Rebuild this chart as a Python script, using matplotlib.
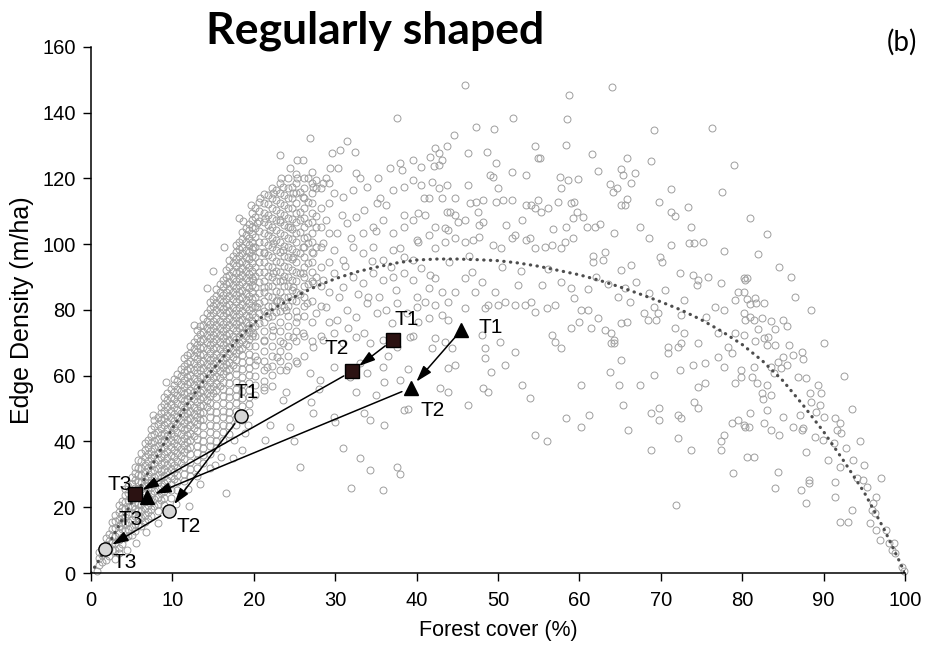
import matplotlib
matplotlib.use("Agg")
import matplotlib.pyplot as plt

plt.rcParams['font.family'] = ['Liberation Sans', 'DejaVu Sans']

# simulated landscapes: forest cover (%) vs edge density (m/ha)
# dense wedge at low cover, read column by column
wedge_x = [1.0, 1.8, 2.6, 3.4, 4.2, 5.0, 5.8, 6.6, 7.4, 8.2, 9.0, 9.8, 10.6, 11.4, 12.2, 13.0,
           13.8, 14.6, 15.4, 16.2, 17.0, 17.8, 18.6, 19.4]
wedge_y = [
    [2.4, 4.5, 6.3],
    [4.0, 6.3, 8.4, 10.6],
    [6.9, 9.0, 11.3, 13.4, 15.5],
    [7.7, 10.0, 12.1, 14.4, 16.5, 18.7, 20.6],
    [10.5, 12.8, 15.0, 17.1, 19.4, 21.5, 23.8, 25.6],
    [11.6, 13.9, 16.0, 18.3, 20.4, 22.6, 24.8, 27.0, 29.2],
    [14.5, 16.7, 18.9, 21.1, 23.3, 25.4, 27.7, 29.9, 32.0, 34.4],
    [15.4, 17.6, 19.8, 22.0, 24.2, 26.5, 28.6, 30.8, 33.0, 35.2, 37.4, 39.5],
    [17.4, 19.6, 21.9, 24.0, 26.3, 28.4, 30.6, 32.9, 35.1, 37.2, 39.5, 41.6, 43.9],
    [18.8, 21.0, 23.2, 25.4, 27.7, 29.8, 32.0, 34.3, 36.4, 38.7, 40.8, 43.0, 45.3, 47.5],
    [20.6, 22.9, 25.0, 27.3, 29.4, 31.7, 33.8, 36.1, 38.2, 40.5, 42.6, 44.9, 47.0, 49.3, 51.4, 53.4],
    [22.8, 25.1, 27.2, 29.5, 31.6, 33.9, 36.0, 38.3, 40.4, 42.7, 44.8, 47.1, 49.2, 51.5, 53.6, 55.9],
    [25.3, 27.6, 29.7, 32.0, 34.1, 36.4, 38.5, 40.8, 42.9, 45.2, 47.3, 49.6, 51.7, 54.0, 56.1, 58.4,
     60.6],
    [27.9, 30.2, 32.3, 34.6, 36.7, 39.0, 41.1, 43.4, 45.5, 47.8, 49.9, 52.2, 54.3, 56.6, 58.7, 61.0,
     63.1, 65.3],
    [29.4, 31.7, 33.8, 36.1, 38.2, 40.5, 42.6, 44.9, 47.0, 49.3, 51.4, 53.7, 55.8, 58.1, 60.2, 62.5,
     64.6, 66.9, 69.1],
    [32.0, 34.3, 36.4, 38.7, 40.8, 43.1, 45.2, 47.5, 49.6, 51.9, 54.0, 56.3, 58.4, 60.7, 62.8, 65.1,
     67.2, 69.5, 71.6, 73.8],
    [33.6, 35.9, 38.0, 40.3, 42.4, 44.7, 46.8, 49.1, 51.2, 53.5, 55.6, 57.9, 60.0, 62.3, 64.4, 66.7,
     68.8, 71.1, 73.2, 75.5, 77.6],
    [36.2, 38.5, 40.6, 42.9, 45.0, 47.3, 49.4, 51.7, 53.8, 56.1, 58.2, 60.5, 62.6, 64.9, 67.0, 69.3,
     71.4, 73.7, 75.8, 78.1, 80.2, 82.3],
    [38.0, 40.3, 42.4, 44.7, 46.8, 49.1, 51.2, 53.5, 55.6, 57.9, 60.0, 62.3, 64.4, 66.7, 68.8, 71.1,
     73.2, 75.5, 77.6, 79.9, 82.0, 84.3, 86.4],
    [40.6, 42.9, 45.0, 47.3, 49.4, 51.7, 53.8, 56.1, 58.2, 60.5, 62.6, 64.9, 67.0, 69.3, 71.4, 73.7,
     75.8, 78.1, 80.2, 82.5, 84.6, 86.9, 89.0],
    [42.3, 44.6, 46.7, 49.0, 51.1, 53.4, 55.5, 57.8, 59.9, 62.2, 64.3, 66.6, 68.7, 71.0, 73.1, 75.4,
     77.5, 79.8, 81.9, 84.2, 86.3, 88.6, 90.7, 93.0, 95.1],
    [44.9, 47.2, 49.3, 51.6, 53.7, 56.0, 58.1, 60.4, 62.5, 64.8, 66.9, 69.2, 71.3, 73.6, 75.7, 78.0,
     80.1, 82.4, 84.5, 86.8, 88.9, 91.2, 93.3, 95.6, 97.7, 99.8],
    [46.5, 48.8, 50.9, 53.2, 55.3, 57.6, 59.7, 62.0, 64.1, 66.4, 68.5, 70.8, 72.9, 75.2, 77.3, 79.6,
     81.7, 84.0, 86.1, 88.4, 90.5, 92.8, 94.9, 97.2, 99.3, 101.6, 103.7],
    [49.1, 51.4, 53.5, 55.8, 57.9, 60.2, 62.3, 64.6, 66.7, 69.0, 71.1, 73.4, 75.5, 77.8, 79.9, 82.2,
     84.3, 86.6, 88.7, 91.0, 93.1, 95.4, 97.5, 99.8, 101.9, 104.2, 106.3],
]

# second pass over the wedge, between the columns above
wedge2_x = [1.4, 2.2, 3.0, 3.8, 4.6, 5.4, 6.2, 7.0, 7.8, 8.6, 9.4, 10.2, 11.0, 11.8, 12.6, 13.4,
            14.2, 15.0, 15.8, 16.6, 17.4, 18.2, 19.0, 19.8]
wedge2_y = [
    [3.4, 5.5, 7.6],
    [5.2, 7.4, 9.6, 11.8],
    [7.0, 9.2, 11.4, 13.6, 15.8, 17.6],
    [8.9, 11.1, 13.3, 15.5, 17.7, 19.9, 22.0],
    [11.2, 13.4, 15.6, 17.8, 20.0, 22.2, 24.4, 26.6],
    [12.8, 15.0, 17.2, 19.4, 21.6, 23.8, 26.0, 28.2, 30.4, 32.2],
    [14.4, 16.6, 18.8, 21.0, 23.2, 25.4, 27.6, 29.8, 32.0, 34.2, 36.4],
    [16.4, 18.6, 20.8, 23.0, 25.2, 27.4, 29.6, 31.8, 34.0, 36.2, 38.4, 40.6],
    [20.4, 22.6, 24.8, 27.0, 29.2, 31.4, 33.6, 35.8, 38.0, 40.2, 42.4, 44.6, 46.4],
    [22.2, 24.4, 26.6, 28.8, 31.0, 33.2, 35.4, 37.6, 39.8, 42.0, 44.2, 46.4, 48.6, 50.6],
    [26.2, 28.4, 30.6, 32.8, 35.0, 37.2, 39.4, 41.6, 43.8, 46.0, 48.2, 50.4, 52.6, 54.6],
    [28.6, 30.8, 33.0, 35.2, 37.4, 39.6, 41.8, 44.0, 46.2, 48.4, 50.6, 52.8, 55.0, 57.2, 59.0],
    [33.4, 35.6, 37.8, 40.0, 42.2, 44.4, 46.6, 48.8, 51.0, 53.2, 55.4, 57.6, 59.8, 62.0],
    [37.6, 39.8, 42.0, 44.2, 46.4, 48.6, 50.8, 53.0, 55.2, 57.4, 59.6, 61.8, 64.0, 66.2],
    [41.8, 44.0, 46.2, 48.4, 50.6, 52.8, 55.0, 57.2, 59.4, 61.6, 63.8, 66.0, 68.2, 70.4],
    [46.4, 48.6, 50.8, 53.0, 55.2, 57.4, 59.6, 61.8, 64.0, 66.2, 68.4, 70.6, 72.8, 75.0],
    [50.4, 52.6, 54.8, 57.0, 59.2, 61.4, 63.6, 65.8, 68.0, 70.2, 72.4, 74.6, 76.8, 79.0],
    [54.8, 57.0, 59.2, 61.4, 63.6, 65.8, 68.0, 70.2, 72.4, 74.6, 76.8, 79.0, 81.2, 83.4],
    [57.0, 59.2, 61.4, 63.6, 65.8, 68.0, 70.2, 72.4, 74.6, 76.8, 79.0, 81.2, 83.4, 85.6, 87.8],
    [61.4, 63.6, 65.8, 68.0, 70.2, 72.4, 74.6, 76.8, 79.0, 81.2, 83.4, 85.6, 87.8, 90.0, 92.2],
    [63.4, 65.6, 67.8, 70.0, 72.2, 74.4, 76.6, 78.8, 81.0, 83.2, 85.4, 87.6, 89.8, 92.0, 94.2, 96.4],
    [67.8, 70.0, 72.2, 74.4, 76.6, 78.8, 81.0, 83.2, 85.4, 87.6, 89.8, 92.0, 94.2, 96.4, 98.6, 100.8],
    [69.8, 72.0, 74.2, 76.4, 78.6, 80.8, 83.0, 85.2, 87.4, 89.6, 91.8, 94.0, 96.2, 98.4, 100.6, 102.8,
     105.0],
    [72.2, 74.4, 76.6, 78.8, 81.0, 83.2, 85.4, 87.6, 89.8, 92.0, 94.2, 96.4, 98.6, 100.8, 103.0, 105.2,
     107.4, 109.6],
]

# upper band between 20 and 30 % cover
band_x = [20.2, 21.2, 22.2, 23.2, 24.2, 25.2, 26.2, 27.2, 28.2, 29.2]
band_y = [
    [54.0, 57.1, 60.0, 63.2, 66.1, 69.0, 72.2, 75.1, 78.0, 81.2, 84.1, 87.0, 90.2, 93.1, 96.0, 99.2,
     102.1, 105.0, 108.2, 111.1],
    [55.6, 58.5, 61.7, 64.6, 67.5, 70.7, 73.6, 76.5, 79.7, 82.6, 85.5, 88.7, 91.6, 94.5, 97.7, 100.6,
     103.5, 106.7, 109.6, 112.5, 115.4],
    [57.0, 60.2, 63.1, 66.0, 69.2, 72.1, 75.0, 78.2, 81.1, 84.0, 87.2, 90.1, 93.0, 96.2, 99.1, 102.0,
     105.2, 108.1, 111.0, 114.2, 117.1],
    [61.7, 64.6, 67.5, 70.7, 73.6, 76.5, 79.7, 82.6, 85.5, 88.7, 91.6, 94.5, 97.7, 100.6, 103.5,
     106.7, 109.6, 112.5, 115.7, 118.6],
    [63.1, 66.0, 69.2, 72.1, 75.0, 78.2, 81.1, 84.0, 87.2, 90.1, 93.0, 96.2, 99.1, 102.0, 105.2,
     108.1, 111.0, 114.2, 117.1, 120.0],
    [64.6, 70.7, 73.6, 76.5, 79.7, 82.6, 85.5, 88.7, 91.6, 94.5, 97.7, 100.6, 103.5, 106.7,
     109.6, 112.5, 115.7, 118.6, 121.5],
    [66.0, 72.1, 78.2, 81.1, 84.0, 87.2, 90.1, 93.0, 96.2, 99.1, 102.0, 105.2, 108.1,
     111.0, 114.2, 117.1, 120.0],
    [70.7, 76.5, 82.6, 88.7, 91.6, 94.5, 97.7, 100.6, 103.5, 106.7, 109.6,
     112.5, 115.7, 118.6, 122.0],
    [72.1, 81.1, 87.2, 93.0, 99.1, 105.2, 111.0, 117.1],
    [76.5, 85.5, 94.5, 103.5, 112.5, 118.6],
]

band2_x = [20.7, 21.7, 22.7, 23.7, 24.7, 25.7, 26.7, 27.7]
band2_y = [
    [76.0, 79.1, 82.2, 85.3, 88.4, 91.5, 94.6, 97.7, 100.8, 103.9, 107.0, 110.1, 113.0],
    [78.0, 81.1, 84.2, 87.3, 90.4, 93.5, 96.6, 99.7, 102.8, 105.9, 109.0, 112.1, 115.0],
    [79.5, 82.6, 85.7, 88.8, 91.9, 95.0, 98.1, 101.2, 104.3, 107.4, 110.5, 113.6, 116.5],
    [81.0, 84.1, 87.2, 90.3, 93.4, 96.5, 99.6, 102.7, 105.8, 108.9, 112.0, 115.1],
    [83.0, 86.1, 89.2, 92.3, 95.4, 98.5, 101.6, 104.7, 107.8, 110.9, 114.0, 117.5],
    [85.0, 91.2, 97.4, 103.6, 109.8, 116.0],
    [88.0, 94.2, 100.4, 106.6, 112.8],
    [90.0, 99.3, 108.6, 117.0],
]

# scattered landscapes around the wedge
cloud_0_20 = [
    (3.5, 6.2), (5.5, 9.0), (6.8, 12.6), (8.2, 15.1), (9.8, 18.2), (0.7, 0.5), (3.0, 4.4), (4.4, 7.1),
    (19.7, 112.0), (18.7, 107.0), (18.2, 108.0), (16.4, 99.3), (15.0, 91.8), (14.2, 86.6), (12.7, 75.5),
    (16.6, 24.2), (17.4, 34.9), (18.5, 37.4), (16.0, 35.4), (17.6, 40.5), (18.9, 42.5), (11.9, 25.4),
    (13.0, 29.5), (15.2, 33.0), (19.3, 45.0), (14.6, 32.0), (13.4, 27.0), (9.2, 58.0), (7.6, 48.0),
    (12.0, 20.5), (10.5, 21.0),
]

cloud_20_40 = [
    (26.9, 132.2), (31.4, 131.5), (37.6, 138.5), (32.4, 128.2), (30.6, 128.7), (29.6, 127.7), (23.2, 127.1),
    (25.3, 125.6), (26.1, 125.6), (29.4, 123.1), (30.4, 123.1), (24.4, 123.1), (25.3, 120.1), (23.4, 120.1),
    (26.7, 120.1), (27.7, 119.5), (28.9, 120.1), (32.6, 121.6), (35.3, 120.1), (36.7, 123.1), (38.0, 124.6),
    (38.2, 122.6), (39.6, 125.6), (20.8, 114.0), (21.4, 107.9), (22.4, 115.5), (23.6, 117.5), (24.8, 115.5),
    (26.1, 114.5), (27.3, 117.5), (28.5, 118.5), (29.8, 115.5), (31.0, 114.5), (32.2, 116.5), (33.9, 117.5),
    (35.1, 112.5), (36.3, 111.9), (37.1, 116.5), (38.4, 117.5), (39.6, 119.5), (20.4, 106.4), (22.0, 104.3),
    (23.2, 107.4), (24.4, 105.3), (25.7, 107.4), (26.5, 102.3), (27.7, 105.3), (28.9, 107.4), (30.2, 103.3),
    (31.4, 106.4), (32.6, 108.4), (33.4, 103.3), (34.7, 105.3), (35.9, 107.4), (37.1, 103.3), (38.4, 105.3),
    (39.6, 107.4), (40.0, 101.3), (19.9, 99.3), (21.2, 97.2), (22.4, 100.3), (23.6, 98.3), (24.8, 96.2),
    (26.1, 99.3), (27.3, 97.2), (28.5, 100.3), (29.8, 98.3), (31.0, 95.2), (32.2, 99.3), (33.4, 97.2),
    (34.7, 99.3), (35.9, 95.2), (37.1, 98.3), (38.4, 96.2), (39.6, 95.2), (19.9, 89.1), (21.2, 87.1),
    (22.4, 91.2), (23.6, 89.1), (24.8, 87.1), (26.1, 91.2), (27.3, 88.1), (28.5, 89.1), (29.8, 91.2),
    (31.0, 87.1), (32.2, 90.1), (33.4, 88.1), (34.7, 91.2), (35.9, 89.1), (37.1, 90.1), (38.4, 91.2),
    (39.6, 89.1), (20.4, 81.0), (21.6, 79.0), (22.8, 83.0), (24.0, 80.0), (25.3, 78.0), (26.5, 82.0),
    (27.7, 79.0), (28.9, 81.0), (30.2, 77.0), (31.4, 80.0), (32.6, 78.0), (33.9, 82.0), (35.1, 79.0),
    (36.3, 80.0), (37.6, 82.0), (38.8, 79.0), (40.0, 81.0), (19.9, 72.9), (21.2, 70.9), (22.4, 73.9),
    (23.6, 69.9), (24.8, 71.9), (26.1, 72.9), (27.3, 68.8), (28.5, 70.9), (29.8, 72.9), (31.0, 69.9),
    (32.6, 71.9), (34.3, 69.9), (35.9, 70.9), (37.6, 68.8), (39.2, 71.9), (20.4, 64.8), (21.6, 62.8),
    (22.8, 65.8), (24.0, 61.7), (25.3, 63.8), (26.9, 60.7), (28.1, 58.7), (29.8, 62.8), (31.8, 59.7),
    (33.9, 60.7), (35.9, 62.8), (38.0, 58.7), (21.2, 56.7), (23.6, 52.6), (27.3, 48.6), (29.8, 47.6),
    (25.7, 32.3), (37.6, 32.3), (35.9, 25.2), (21.4, 40.5), (24.4, 44.5), (33.5, 48.6), (34.3, 46.5),
    (38.4, 49.6), (32.5, 55.0), (33.0, 64.0), (33.5, 73.0), (34.0, 84.0), (34.5, 95.0), (35.0, 104.0),
    (35.5, 114.0), (36.0, 58.0), (36.5, 66.0), (37.0, 76.0), (37.5, 86.0), (38.0, 99.0), (38.5, 109.0),
    (39.0, 62.0), (39.5, 72.0), (40.0, 84.0), (22.0, 45.0), (25.0, 40.0), (27.0, 52.0), (30.0, 46.0),
    (31.0, 38.0), (33.0, 35.0), (35.0, 54.0), (36.0, 45.0), (38.0, 30.0), (39.0, 50.0), (32.0, 26.0),
    (28.0, 56.0), (24.0, 55.0), (34.3, 31.3), (31.2, 93.5), (32.8, 85.0), (33.6, 110.5), (36.8, 93.0),
    (31.6, 74.5), (35.4, 84.0), (30.8, 109.0), (31.9, 102.0), (30.5, 84.0), (33.1, 120.0),
]

cloud_40_60 = [
    (45.9, 148.4), (58.7, 145.4), (51.8, 138.5), (58.5, 138.1), (47.3, 135.6), (49.5, 135.1), (44.6, 133.2),
    (58.4, 130.2), (54.5, 129.9), (54.9, 126.3), (55.2, 126.1), (42.3, 129.4), (42.7, 127.7), (43.7, 129.9),
    (41.6, 126.6), (43.1, 125.6), (42.1, 123.9), (42.8, 124.1), (40.6, 123.6), (46.3, 127.7), (48.6, 128.2),
    (49.8, 124.6), (51.7, 121.9), (53.4, 121.1), (49.0, 121.1), (49.4, 120.5), (57.6, 120.5), (58.6, 119.5),
    (59.8, 119.8), (57.8, 117.0), (59.0, 112.5), (59.7, 109.9), (40.6, 118.0), (41.9, 119.0), (42.7, 117.0),
    (43.7, 118.0), (41.5, 114.0), (40.9, 114.0), (43.1, 114.0), (44.7, 114.0), (46.3, 118.0), (46.6, 112.5),
    (47.3, 112.9), (48.1, 113.5), (47.6, 109.9), (48.1, 106.9), (47.7, 105.9), (44.7, 108.9), (45.1, 106.9),
    (45.9, 107.4), (44.1, 109.9), (43.7, 109.9), (49.8, 112.9), (50.6, 113.5), (51.7, 113.5), (53.4, 111.9),
    (54.1, 111.9), (54.9, 113.5), (54.5, 110.9), (55.3, 109.9), (56.2, 110.9), (57.4, 112.9), (59.4, 112.9),
    (59.2, 107.9), (58.4, 105.3), (40.2, 109.4), (41.0, 108.9), (42.3, 105.3), (43.5, 104.8), (43.9, 104.3),
    (41.5, 102.8), (40.2, 100.8), (42.3, 98.8), (43.5, 100.8), (44.7, 101.8), (45.9, 100.8), (46.9, 101.3),
    (47.7, 102.3), (49.4, 99.8), (50.4, 98.8), (51.7, 101.8), (52.1, 102.8), (53.4, 101.3), (53.9, 101.8),
    (54.5, 98.8), (55.8, 99.3), (56.6, 99.8), (57.8, 98.8), (58.2, 100.8), (59.2, 101.8), (40.6, 92.7),
    (41.6, 90.6), (42.3, 89.6), (41.5, 86.6), (43.1, 85.6), (41.0, 82.5), (42.3, 81.5), (43.9, 82.5),
    (44.7, 85.6), (45.9, 89.6), (46.8, 91.6), (48.0, 88.6), (47.2, 85.6), (45.9, 80.5), (48.4, 80.5),
    (48.8, 81.5), (49.6, 85.6), (50.0, 81.5), (50.9, 82.5), (52.1, 81.5), (52.5, 87.6), (53.3, 81.5),
    (54.1, 82.5), (54.5, 79.5), (56.0, 80.5), (57.0, 81.5), (57.8, 88.6), (59.0, 86.6), (59.4, 83.6),
    (55.4, 87.6), (40.2, 76.5), (41.5, 77.5), (43.1, 78.5), (43.9, 77.0), (42.3, 71.4), (43.5, 70.4),
    (44.3, 68.3), (44.7, 63.3), (43.9, 62.3), (41.9, 68.3), (48.0, 72.4), (48.4, 68.3), (48.4, 65.3),
    (48.2, 56.2), (48.8, 55.2), (46.3, 51.1), (49.2, 61.2), (50.2, 70.4), (50.9, 63.3), (52.1, 67.3),
    (52.9, 57.2), (53.9, 53.1), (54.5, 42.0), (56.0, 40.0), (56.6, 72.4), (57.0, 70.4), (57.8, 68.3),
    (59.0, 74.4), (59.9, 76.5), (58.4, 47.1), (42.9, 56.2), (43.9, 55.2), (50.5, 93.0), (52.8, 92.0),
    (44.0, 94.5), (56.2, 92.5), (46.5, 96.5), (51.0, 106.0), (53.0, 107.5), (56.8, 104.5), (50.0, 117.0),
]

cloud_60_80 = [
    (64.0, 147.7), (69.2, 134.8), (61.6, 127.5), (65.8, 126.2), (68.8, 125.2), (62.3, 122.4), (65.1, 122.8),
    (65.4, 121.2), (66.8, 121.8), (66.4, 118.7), (71.2, 116.7), (73.3, 111.2), (77.8, 98.0), (63.8, 118.2),
    (64.1, 115.9), (64.6, 117.0), (65.8, 113.8), (65.6, 111.9), (65.1, 111.9), (69.8, 112.9), (71.3, 109.9),
    (71.7, 108.6), (60.4, 108.4), (61.9, 105.3), (60.9, 105.3), (62.5, 106.1), (64.3, 103.3), (67.4, 105.3),
    (68.6, 101.8), (73.7, 105.3), (73.5, 100.3), (74.1, 100.3), (75.2, 100.8), (61.7, 96.4), (63.1, 97.7),
    (62.9, 95.2), (61.7, 94.7), (65.1, 92.2), (66.4, 93.7), (69.9, 96.2), (70.2, 94.7), (71.3, 99.8),
    (72.3, 91.2), (74.0, 90.6), (74.6, 89.1), (74.4, 87.6), (75.8, 90.1), (77.4, 88.1), (80.3, 89.1),
    (79.5, 85.6), (65.6, 86.6), (66.2, 82.5), (64.8, 84.0), (68.6, 85.1), (69.2, 81.0), (69.4, 77.0),
    (69.7, 79.0), (67.9, 79.0), (68.4, 77.0), (72.9, 83.0), (72.5, 78.5), (71.7, 74.4), (72.9, 72.9),
    (76.6, 81.0), (77.8, 80.0), (79.1, 83.0), (80.3, 77.0), (77.0, 72.9), (79.1, 72.9), (62.3, 77.5),
    (63.1, 73.9), (63.9, 72.9), (64.3, 70.9), (65.1, 75.9), (65.9, 76.5), (60.2, 80.0), (61.0, 80.0),
    (61.4, 74.4), (78.2, 68.8), (78.7, 66.8), (77.0, 65.8), (77.8, 62.8), (79.9, 59.7), (79.1, 57.7),
    (70.9, 68.8), (72.1, 68.8), (72.5, 69.9), (70.9, 66.8), (74.6, 69.9), (75.4, 63.8), (74.6, 56.7),
    (75.4, 57.7), (65.1, 64.8), (64.9, 57.2), (67.4, 57.2), (69.2, 60.2), (72.3, 61.7), (74.0, 63.3),
    (63.9, 69.9), (64.3, 69.9), (60.2, 57.2), (61.2, 48.1), (60.2, 44.5), (63.7, 61.2), (65.4, 51.1),
    (66.0, 43.5), (68.8, 48.6), (69.8, 50.1), (69.8, 46.5), (68.8, 37.4), (72.1, 48.1), (72.5, 47.1),
    (73.7, 37.4), (74.1, 52.1), (74.6, 50.1), (72.1, 41.0), (77.4, 40.0), (77.4, 37.4), (77.8, 42.0),
    (78.7, 45.5), (79.5, 46.5), (80.3, 44.5), (78.9, 30.3), (71.9, 20.7), (76.3, 135.4), (79.0, 124.1),
    (77.5, 116.0), (62.0, 90.0), (67.0, 88.5), (70.5, 86.0), (75.5, 78.0), (63.5, 88.0), (61.0, 86.5),
]

cloud_80_100 = [
    (80.6, 89.8), (80.2, 89.8), (80.2, 85.6), (80.6, 83.3), (81.6, 83.6), (81.7, 82.2), (82.7, 82.2),
    (81.0, 81.8), (80.2, 79.0), (81.0, 78.0), (81.4, 77.0), (82.4, 77.5), (82.0, 74.2), (83.6, 76.7),
    (84.0, 74.1), (85.0, 77.0), (85.5, 75.2), (80.2, 72.4), (81.6, 70.6), (82.7, 71.4), (83.2, 71.9),
    (83.0, 69.4), (84.0, 69.4), (85.7, 69.4), (86.3, 66.3), (87.3, 67.3), (87.5, 65.0), (85.0, 65.8),
    (84.4, 64.3), (84.8, 62.5), (85.5, 63.3), (79.9, 61.7), (81.4, 62.8), (81.2, 59.7), (81.8, 57.7),
    (83.0, 57.2), (83.9, 60.7), (83.6, 62.8), (82.4, 54.7), (82.6, 52.8), (83.6, 54.1), (83.0, 49.6),
    (86.9, 59.7), (87.9, 59.2), (88.3, 54.7), (89.3, 57.2), (89.7, 54.7), (88.5, 52.1), (89.5, 51.1),
    (87.1, 48.1), (87.5, 44.0), (86.3, 44.5), (87.3, 43.5), (85.0, 47.6), (88.9, 41.5), (89.9, 40.5),
    (89.1, 49.1), (90.1, 47.6), (91.4, 47.1), (92.0, 45.5), (91.6, 43.5), (92.2, 42.5), (91.3, 39.5),
    (87.9, 36.9), (90.5, 34.4), (92.0, 32.3), (93.6, 34.4), (80.2, 45.0), (80.8, 44.5), (82.7, 45.5),
    (83.5, 43.5), (84.5, 42.0), (81.0, 48.6), (80.6, 35.4), (81.4, 35.4), (84.4, 30.8), (84.0, 25.8),
    (87.2, 25.2), (88.2, 27.3), (88.2, 28.3), (87.9, 21.2), (91.4, 27.8), (91.4, 23.2), (92.0, 15.6),
    (93.0, 15.6), (93.5, 19.2), (94.1, 28.8), (94.9, 28.3), (95.3, 26.3), (96.5, 23.2), (96.1, 21.2),
    (95.9, 19.2), (96.3, 18.2), (95.7, 15.1), (96.5, 13.1), (97.7, 13.1), (96.9, 10.0), (98.0, 9.0),
    (98.6, 9.0), (98.4, 7.0), (98.8, 6.0), (99.6, 1.9), (99.9, 0.6), (81.0, 108.0), (83.0, 103.0),
    (82.0, 97.0), (84.5, 93.0), (86.0, 90.0), (88.5, 80.0), (86.5, 84.0), (90.0, 70.0), (92.5, 60.0),
    (93.5, 50.0), (94.5, 40.0), (97.0, 29.0), (92.8, 38.0), (95.0, 33.0),
]

# polynomial trend line through the cloud
trend_x = [0, 2, 4, 6, 8, 10, 12, 14, 16, 18, 20, 22.5, 25, 27.5, 30, 32.5, 35, 37.5, 40, 42.5, 45,
           47.5, 50, 52.5, 55, 57.5, 60, 62.5, 65, 67.5, 70, 72.5, 75, 77.5, 80, 82.5, 85, 87.5, 90,
           92.5, 95, 97.5, 100]
trend_y = [0, 8, 17, 26, 35, 44, 52, 59, 65, 71, 76, 80.5, 84, 87, 89.5, 91.5, 93, 94.3, 95.2, 95.5,
           95.5, 95.3, 95, 94.3, 93.3, 92, 90.7, 89, 87, 84.8, 82.5, 80, 77, 73.5, 69.5, 64.5, 58.5,
           51, 43, 34, 24.5, 13, 0]

# landscape trajectories T1 -> T2 -> T3
square_x = [37.1, 32.1, 5.4]
square_y = [70.9, 61.4, 24.0]
triangle_x = [45.5, 39.3, 6.9]
triangle_y = [73.9, 56.3, 23.1]
circle_x = [18.4, 9.6, 1.7]
circle_y = [47.8, 18.9, 7.3]
stage_labels = ["T1", "T2", "T3"]

fig = plt.figure(figsize=(9.35, 6.49), dpi=100)
ax = fig.add_axes([0.0973, 0.1171, 0.8706, 0.8105])

pts = []
for cols_x, cols_y in [(wedge_x, wedge_y), (wedge2_x, wedge2_y), (band_x, band_y), (band2_x, band2_y)]:
    for x, ys in zip(cols_x, cols_y):
        pts += [(x, y) for y in ys]
pts += cloud_0_20 + cloud_20_40 + cloud_40_60 + cloud_60_80 + cloud_80_100
ax.plot([p[0] for p in pts], [p[1] for p in pts], 'o', mfc='none', mec='#9e9e9e',
        ms=5.0, mew=0.7, zorder=1, clip_on=False)

ax.plot(trend_x, trend_y, color='#4d4d4d', lw=2.3, linestyle=(0, (0.1, 2.0)),
        dash_capstyle='round', zorder=2)


def draw_path(xs, ys, marker, face, size, offsets):
    for i in range(len(xs) - 1):
        ax.annotate('', xy=(xs[i + 1], ys[i + 1]), xytext=(xs[i], ys[i]),
                    arrowprops=dict(arrowstyle='-|>,head_length=0.7,head_width=0.22',
                                    color='black', lw=1.1, shrinkA=7, shrinkB=6,
                                    mutation_scale=14), zorder=3)
    ax.plot(xs, ys, linestyle='none', marker=marker, mfc=face, mec='black', ms=size,
            mew=1.0, zorder=4)
    for x, y, lab, off in zip(xs, ys, stage_labels, offsets):
        ax.annotate(lab, (x, y), xytext=off, textcoords='offset points', fontsize=15,
                    ha='center', va='center', zorder=5)


draw_path(square_x, square_y, 's', '#2b1212', 9.5,
          [(10, 14.5), (-11, 16.5), (-11, 7)])
draw_path(triangle_x, triangle_y, '^', 'black', 10,
          [(21, 2), (16, -16.5), (-12, -16.5)])
draw_path(circle_x, circle_y, 'o', '#d6d6d6', 9.5,
          [(4, 17), (14, -11.5), (14, -10)])

ax.set_xlim(0, 100)
ax.set_ylim(0, 160)
ax.set_xticks(range(0, 101, 10))
ax.set_yticks(range(0, 161, 20))
for side in ['top', 'right']:
    ax.spines[side].set_visible(False)
for side in ['left', 'bottom']:
    ax.spines[side].set_linewidth(1.1)
ax.tick_params(axis='both', direction='out', length=6, width=1.0, labelsize=14.5)
ax.tick_params(axis='x', pad=7)
ax.tick_params(axis='y', pad=5)

ax.set_xlabel('Forest cover (%)', fontsize=15.5, labelpad=7)
ax.set_ylabel('Edge Density (m/ha)', fontsize=18, labelpad=6)

fig.text(0.401, 0.953, 'Regularly shaped', fontsize=32, fontweight='bold',
         family=['Lato', 'DejaVu Sans'], ha='center', va='center')
fig.text(0.965, 0.935, '(b)', fontsize=20, family=['Lato', 'DejaVu Sans'],
         ha='center', va='center')

fig.savefig('out.png', dpi=100)
